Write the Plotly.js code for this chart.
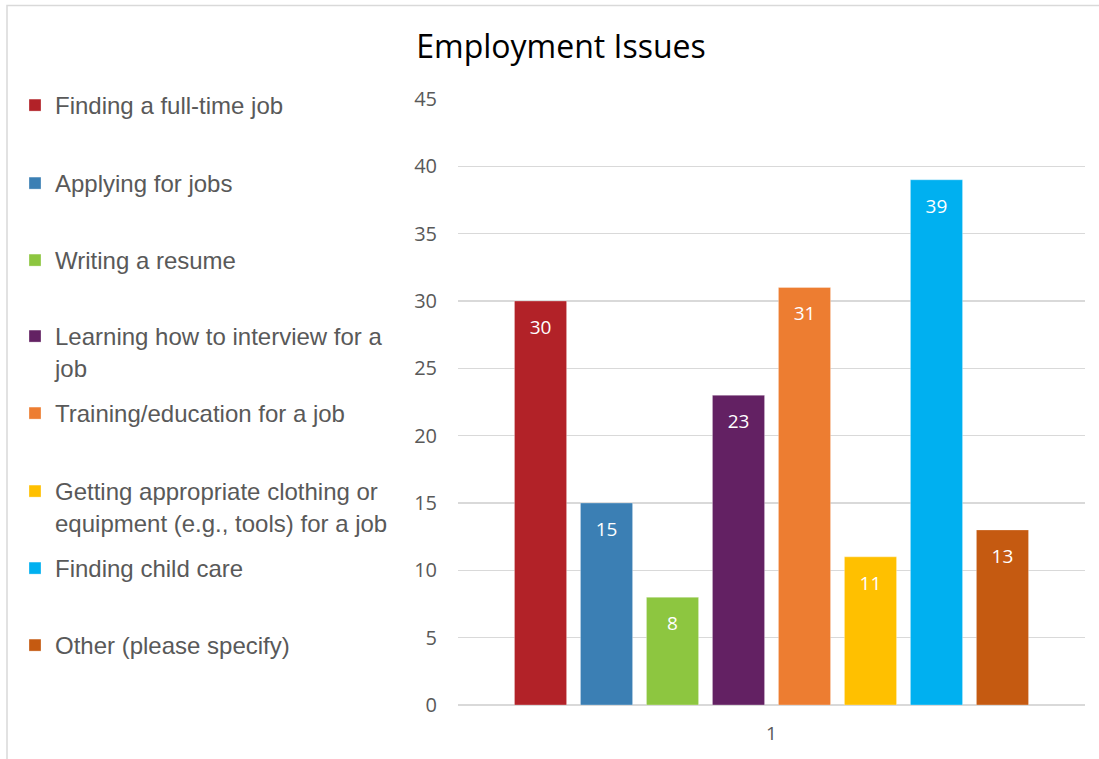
<!DOCTYPE html>
<html>
<head>
<meta charset="utf-8">
<script src="https://cdn.plot.ly/plotly-3.0.1.min.js"></script>
<style>html,body{margin:0;padding:0;background:#fff;}#chart{width:1099px;height:759px;}</style>
</head>
<body>
<div id="chart"></div>
<script>
// ---- data ----
const categories = ['1'];
const seriesNames = [
  'Finding a full-time job',
  'Applying for jobs',
  'Writing a resume',
  'Learning how to interview for a<br>job',
  'Training/education for a job',
  'Getting appropriate clothing or<br>equipment (e.g., tools) for a job',
  'Finding child care',
  'Other (please specify)'
];
const seriesValues = [30, 15, 8, 23, 31, 11, 39, 13];
const yTickValues = [0, 5, 10, 15, 20, 25, 30, 35, 40, 45];

// ---- styles ----
const seriesColors = ['#B22228', '#3B7FB4', '#8DC640', '#632163', '#ED7D31', '#FFC000', '#00B0F0', '#C55A11'];
const legendTopPx = [106, 184, 261, 337, 414, 492, 569, 646]; // first-line centres in px
const W = 1099, H = 759;
const plotL = 458, plotR = 1085, plotT = 99, plotB = 705;
const BARGAP = 0.158;

const barTraces = seriesNames.map((name, i) => ({
  type: 'bar',
  x: categories,
  y: [seriesValues[i]],
  name: name,
  legend: i === 0 ? 'legend' : 'legend' + (i + 1),
  marker: {color: seriesColors[i], line: {color: 'rgba(255,255,255,0.5)', width: 0.6}},
  hoverinfo: 'skip'
}));

// data labels, grouped the same way as the bars
const labelTraces = seriesNames.map((name, i) => ({
  type: 'scatter',
  mode: 'markers+text',
  x: categories,
  y: [seriesValues[i]],
  text: [String(seriesValues[i])],
  textposition: 'bottom center',
  textfont: {color: '#ffffff', size: 19, family: 'Open Sans, sans-serif'},
  marker: {size: 28, opacity: 0, color: seriesColors[i]},
  showlegend: false,
  cliponaxis: false,
  hoverinfo: 'skip'
}));

const layout = {
  width: W, height: H,
  paper_bgcolor: '#ffffff', plot_bgcolor: '#ffffff',
  margin: {l: plotL, r: W - plotR, t: plotT, b: H - plotB, pad: 0},
  barmode: 'group',
  bargap: BARGAP,
  bargroupgap: 0.21,
  scattermode: 'group',
  scattergap: BARGAP,
  title: {
    text: 'Employment Issues',
    font: {family: 'Open Sans, sans-serif', size: 32, color: '#000000'},
    xref: 'container', yref: 'container',
    x: 561 / W, xanchor: 'center',
    y: 1 - 47 / H, yanchor: 'middle'
  },
  xaxis: {
    type: 'category',
    showgrid: false, zeroline: false, showline: false,
    ticks: '',
    ticklabelstandoff: 15,
    tickfont: {family: 'Open Sans, sans-serif', size: 19, color: '#595959'}
  },
  yaxis: {
    range: [0, 45],
    tickvals: yTickValues,
    ticktext: yTickValues.map(String),
    showgrid: true, gridcolor: '#D9D9D9', gridwidth: 1.5,
    zeroline: true, zerolinecolor: '#D9D9D9', zerolinewidth: 1.5,
    showline: false, ticks: '',
    ticklabelstandoff: 20,
    tickfont: {family: 'Open Sans, sans-serif', size: 20, color: '#595959'}
  },
  shapes: [{
    type: 'rect', xref: 'paper', yref: 'paper',
    x0: (7 - plotL) / (plotR - plotL), x1: (1110 - plotL) / (plotR - plotL),
    y0: (plotB - 770) / (plotB - plotT), y1: (plotB - 5.5) / (plotB - plotT),
    line: {color: '#D9D9D9', width: 1.5}, fillcolor: 'rgba(0,0,0,0)', layer: 'below'
  }],
  showlegend: true
};

legendTopPx.forEach((py, i) => {
  const key = i === 0 ? 'legend' : 'legend' + (i + 1);
  layout[key] = {
    xref: 'container', yref: 'container',
    x: 15 / W, xanchor: 'left',
    y: 1 - (py - 23) / H, yanchor: 'top',
    valign: 'top',
    bgcolor: 'rgba(0,0,0,0)', borderwidth: 0,
    font: {family: 'Liberation Sans, Arial, sans-serif', size: 24, color: '#595959'},
    itemclick: false, itemdoubleclick: false
  };
});

Plotly.newPlot('chart', barTraces.concat(labelTraces), layout, {displayModeBar: false, staticPlot: true});
</script>
</body>
</html>
